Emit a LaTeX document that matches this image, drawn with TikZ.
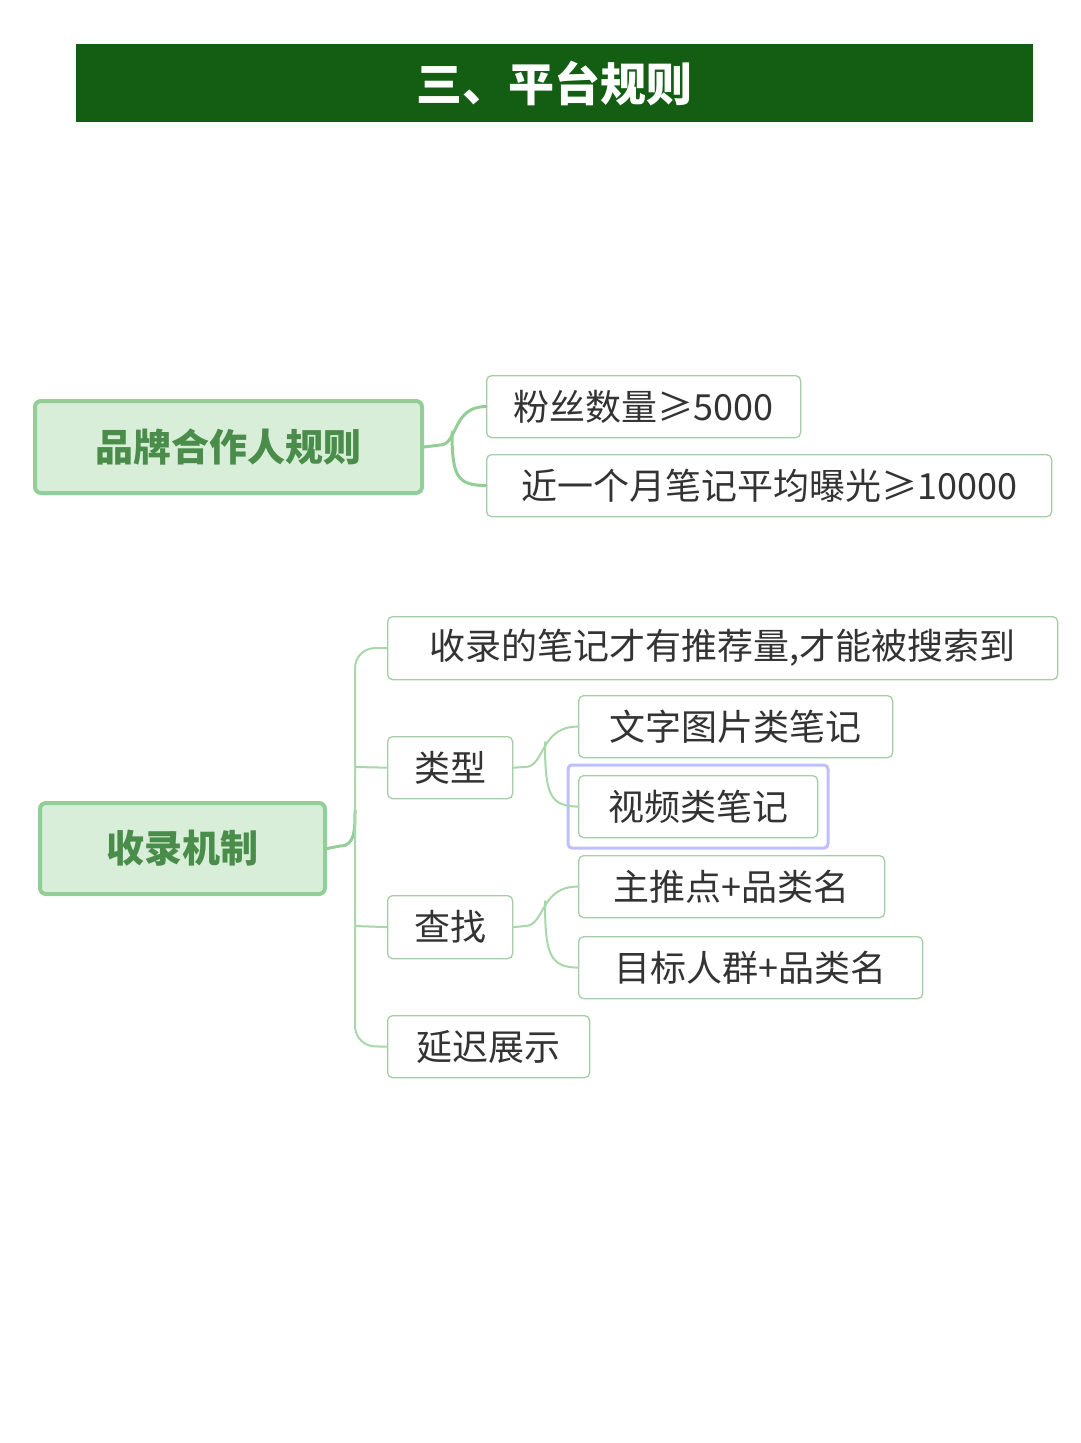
\documentclass[tikz,border=0pt]{standalone}
\usepackage{fontspec}
\setmainfont{Noto Sans CJK SC}
\begin{document}
\begin{tikzpicture}[x=1pt,y=-1pt,
  leaf/.style={draw=green!45!black!35!white,line width=1.3pt,rounded corners=5pt,fill=white,
    font=\fontsize{36}{40}\selectfont,text=black!80,anchor=north west,inner sep=0pt},
  rootbox/.style={draw=rootline,line width=4pt,rounded corners=6pt,fill=rootfill,
    font=\fontsize{38}{42}\selectfont\bfseries,text=roottext,anchor=north west,inner sep=0pt},
  link/.style={draw=rootline,line width=3pt,line cap=round},
  sublink/.style={draw=rootline!80,line width=2pt,line cap=round}]
\definecolor{rootline}{HTML}{93CD97}
\definecolor{rootfill}{HTML}{D8EED8}
\definecolor{roottext}{HTML}{4A8C4A}
\definecolor{titlegreen}{HTML}{135E13}
\useasboundingbox (0,0) rectangle (1080,1443);
\fill[white] (0,0) rectangle (1080,1443);
\node[fill=titlegreen,minimum width=957pt,minimum height=78pt,anchor=north west,inner sep=0pt,
  text=white,font=\fontsize{46}{50}\selectfont\bfseries] (title) at (76,44) {三、平台规则};
% brand
\node[rootbox,minimum width=387pt,minimum height=92pt] (brand) at (33,399) {品牌合作人规则};
\node[leaf,minimum width=314pt,minimum height=62pt] (b1) at (486,375) {粉丝数量≥5000};
\node[leaf,minimum width=565pt,minimum height=62pt] (b2) at (486,454) {近一个月笔记平均曝光≥10000};
\draw[link] (brand.east) -- (440,445) .. controls (458,445) and (452,406) .. (b1.west);
\draw[link] (452,432) .. controls (452,478) and (458,485) .. (b2.west);
% collect
\node[rootbox,minimum width=285pt,minimum height=91pt] (col) at (38,801) {收录机制};
\node[leaf,minimum width=670pt,minimum height=63pt] (c1) at (387,616) {收录的笔记才有推荐量,才能被搜索到};
\node[leaf,minimum width=125pt,minimum height=62pt] (c2) at (387,736) {类型};
\node[leaf,minimum width=125pt,minimum height=63pt] (c3) at (387,895) {查找};
\node[leaf,minimum width=202pt,minimum height=62pt] (c4) at (387,1015) {延迟展示};
\node[leaf,minimum width=314pt,minimum height=62pt] (t1) at (578,695) {文字图片类笔记};
\draw[draw=blue!25,line width=3pt,rounded corners=4pt] (568,765) rectangle (828,848);
\node[leaf,minimum width=239pt,minimum height=62pt] (t2) at (578,775) {视频类笔记};
\node[leaf,minimum width=306pt,minimum height=62pt] (f1) at (578,855) {主推点+品类名};
\node[leaf,minimum width=344pt,minimum height=62pt] (f2) at (578,936) {目标人群+品类名};
\draw[link] (col.east) -- (340,846) .. controls (355,846) and (355,830) .. (355,810);
\draw[sublink,rounded corners=20pt] (c1.west) -- (355,648) -- (355,1046) -- (c4.west);
\draw[sublink] (355,767) -- (c2.west);
\draw[sublink] (355,926) -- (c3.west);
\draw[sublink] (c2.east) -- (525,767) .. controls (545,767) and (540,726) .. (t1.west);
\draw[sublink] (545,742) .. controls (545,795) and (550,806) .. (t2.west);
\draw[sublink] (c3.east) -- (525,926) .. controls (545,926) and (540,886) .. (f1.west);
\draw[sublink] (545,901) .. controls (545,955) and (550,967) .. (f2.west);
\end{tikzpicture}
\end{document}
